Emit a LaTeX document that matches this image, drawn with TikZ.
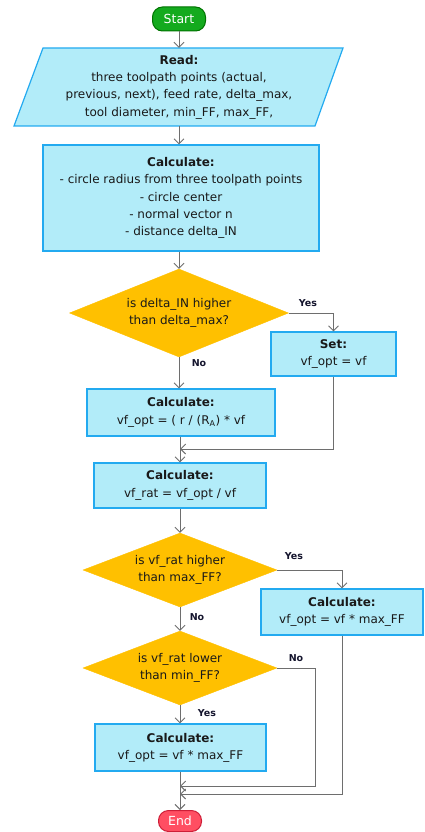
\documentclass[tikz,border=0pt]{standalone}
\usepackage{fontspec}
\setmainfont{DejaVu Sans}
\usetikzlibrary{shapes.geometric,arrows.meta,calc}
\definecolor{boxfill}{RGB}{178,236,249}
\definecolor{boxline}{RGB}{35,170,240}
\definecolor{decfill}{RGB}{255,192,0}
\definecolor{startfill}{RGB}{20,170,30}
\definecolor{startline}{RGB}{0,115,0}
\definecolor{endfill}{RGB}{255,78,98}
\definecolor{endline}{RGB}{205,30,55}
\definecolor{flow}{RGB}{110,110,110}
\definecolor{txt}{RGB}{25,25,25}
\definecolor{lbl}{RGB}{20,20,45}
\tikzset{
  procbox/.style={rectangle, draw=boxline, fill=boxfill, line width=1.2pt, inner sep=0pt, align=center, text=txt, font=\fontsize{12}{17.3}\selectfont},
  decbox/.style={diamond, fill=decfill, draw=decfill, inner sep=0pt, align=center, text=txt, font=\fontsize{12}{17.3}\selectfont},
  termbox/.style={rectangle, rounded corners=10pt, line width=1pt, inner sep=0pt, text=white, font=\fontsize{12.5}{14}\selectfont},
  flowline/.style={draw=flow, line width=0.9pt, -{Straight Barb[length=5pt,width=10pt,line width=0.9pt]}},
  plainline/.style={draw=flow, line width=0.9pt},
  lab/.style={font=\bfseries\fontsize{9.5}{11}\selectfont, text=lbl, inner sep=0pt}
}
\begin{document}
\begin{tikzpicture}[x=1pt,y=-1pt]
\useasboundingbox (0,0) rectangle (424,832);
% start
\node[termbox, fill=startfill, draw=startline, minimum width=53pt, minimum height=24pt] (start) at (179,19) {Start};
% read (parallelogram)
\fill[boxfill] (43,48) -- (343,48) -- (315,126) -- (14,126) -- cycle;
\draw[boxline, line width=1.2pt] (43,48) -- (343,48) -- (315,126) -- (14,126) -- cycle;
\node[align=center, text=txt, font=\fontsize{12}{17.3}\selectfont, minimum width=250pt, minimum height=78pt, inner sep=0pt] (read) at (179,87)
  {\textbf{Read:}\\three toolpath points (actual,\\previous, next), feed rate, delta\_max,\\tool diameter, min\_FF, max\_FF,};
% calc1
\node[procbox, minimum width=276pt, minimum height=106pt] (calc1) at (181,198)
  {\textbf{Calculate:}\\- circle radius from three toolpath points\\- circle center\\- normal vector n\\- distance delta\_IN};
% decision 1
\node[decbox, minimum width=219pt, minimum height=88pt, aspect=2.49] (d1) at (179,313)
  {is delta\_IN higher\\than delta\_max?};
% set
\node[procbox, minimum width=125pt, minimum height=44pt] (set) at (333.5,354)
  {\textbf{Set:}\\vf\_opt = vf};
% calc2
\node[procbox, minimum width=188pt, minimum height=47pt] (calc2) at (181,412.5)
  {\textbf{Calculate:}\\vf\_opt = ( r / (R\textsubscript{A}) * vf};
% calc3
\node[procbox, minimum width=172pt, minimum height=45pt] (calc3) at (180,485.5)
  {\textbf{Calculate:}\\vf\_rat = vf\_opt / vf};
% decision 2
\node[decbox, minimum width=194pt, minimum height=74pt, aspect=2.62] (d2) at (180,570)
  {is vf\_rat higher\\than max\_FF?};
% calc4
\node[procbox, minimum width=162pt, minimum height=46pt] (calc4) at (342,612)
  {\textbf{Calculate:}\\vf\_opt = vf * max\_FF};
% decision 3
\node[decbox, minimum width=194pt, minimum height=74pt, aspect=2.62] (d3) at (180,668)
  {is vf\_rat lower\\than min\_FF?};
% calc5
\node[procbox, minimum width=171pt, minimum height=47pt] (calc5) at (180.5,747.5)
  {\textbf{Calculate:}\\vf\_opt = vf * max\_FF};
% end
\node[termbox, fill=endfill, draw=endline, minimum width=43pt, minimum height=21pt] (end) at (180,821) {End};
% join points
\coordinate (j1) at (180,449);
\coordinate (j2) at (180,786);
\coordinate (j3) at (180,794);
% connectors
\draw[flowline] (start.south) -- (start.south |- read.north);
\draw[flowline] (read.south) -- (read.south |- calc1.north);
\draw[flowline] (calc1.south -| d1.north) -- (d1.north);
\draw[flowline] (d1.east) -| (set.north);
\node[lab] at (308,303) {Yes};
\draw[flowline] (d1.south) -- (d1.south |- calc2.north);
\node[lab] at (199,363) {No};
\draw[flowline] (set.south) |- (j1);
\draw[flowline] (calc2.south -| j1) -- (j1 |- calc3.north);
\draw[flowline] (calc3.south) -- (d2.north);
\draw[flowline] (d2.east) -| (calc4.north);
\node[lab] at (294,556) {Yes};
\draw[flowline] (d2.south) -- (d3.north);
\node[lab] at (197,617) {No};
\draw[flowline] (d3.east) -- ++(38,0) |- (j2);
\node[lab] at (296,658) {No};
\draw[flowline] (d3.south) -- (calc5.north -| d3.south);
\node[lab] at (207,713) {Yes};
\draw[flowline] (calc4.south) |- (j3);
\draw[flowline] (calc5.south -| end.north) -- (end.north);
\end{tikzpicture}
\end{document}
